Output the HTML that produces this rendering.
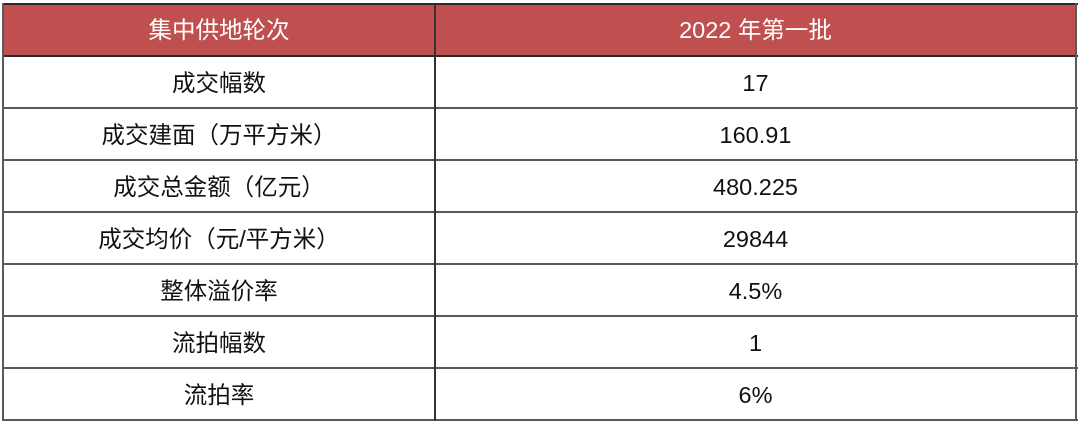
<!DOCTYPE html>
<html>
<head>
<meta charset="utf-8">
<style>
html,body{margin:0;padding:0;background:#fff;}
body{width:1080px;height:426px;position:relative;overflow:hidden;font-family:"Liberation Sans","Noto Sans CJK SC",sans-serif;}
.hdr{position:absolute;left:3px;top:4px;width:1073px;height:52px;background:#c0504f;}
.h{position:absolute;background:#5a5a5a;}
.v{position:absolute;background:#5a5a5a;}
.t{position:absolute;height:52px;line-height:52px;text-align:center;font-size:23.5px;color:#111;}
.w{color:#fff;}
</style>
</head>
<body>
<div class="hdr"></div>
<div class="h" style="left:2px;top:3px;width:1076px;height:2px;background:#2a2a2a;"></div>
<div class="h" style="left:2px;top:55px;width:1076px;height:2px;background:#2a2a2a;"></div>
<div class="h" style="left:2px;top:107px;width:1076px;height:2px;"></div>
<div class="h" style="left:2px;top:159px;width:1076px;height:2px;"></div>
<div class="h" style="left:2px;top:211px;width:1076px;height:2px;"></div>
<div class="h" style="left:2px;top:263px;width:1076px;height:2px;"></div>
<div class="h" style="left:2px;top:315px;width:1076px;height:2px;"></div>
<div class="h" style="left:2px;top:367px;width:1076px;height:2px;"></div>
<div class="h" style="left:2px;top:419px;width:1076px;height:2px;"></div>
<div class="v" style="left:2px;top:3px;width:2px;height:418px;"></div>
<div class="v" style="left:434px;top:3px;width:2px;height:418px;background:#333;"></div>
<div class="v" style="left:1075px;top:3px;width:2px;height:418px;"></div>

<div class="t w" style="left:4px;top:4px;width:430px;">集中供地轮次</div>
<div class="t w" style="left:436px;top:4px;width:639px;">2022 年第一批</div>

<div class="t" style="left:4px;top:57px;width:430px;">成交幅数</div>
<div class="t" style="left:436px;top:57px;width:639px;">17</div>

<div class="t" style="left:4px;top:109px;width:430px;">成交建面（万平方米）</div>
<div class="t" style="left:436px;top:109px;width:639px;">160.91</div>

<div class="t" style="left:4px;top:161px;width:430px;">成交总金额（亿元）</div>
<div class="t" style="left:436px;top:161px;width:639px;">480.225</div>

<div class="t" style="left:4px;top:213px;width:430px;">成交均价（元/平方米）</div>
<div class="t" style="left:436px;top:213px;width:639px;">29844</div>

<div class="t" style="left:4px;top:265px;width:430px;">整体溢价率</div>
<div class="t" style="left:436px;top:265px;width:639px;">4.5%</div>

<div class="t" style="left:4px;top:317px;width:430px;">流拍幅数</div>
<div class="t" style="left:436px;top:317px;width:639px;">1</div>

<div class="t" style="left:4px;top:369px;width:430px;">流拍率</div>
<div class="t" style="left:436px;top:369px;width:639px;">6%</div>
</body>
</html>
